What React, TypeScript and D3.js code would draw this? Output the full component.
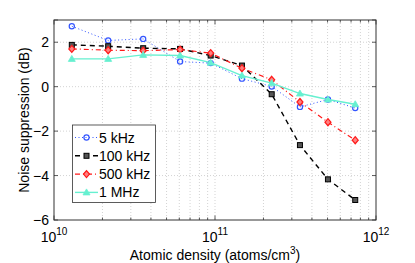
import * as d3 from "d3";
import { useEffect, useRef } from "react";

const density = [1.29e10, 2.17e10, 3.58e10, 6.07e10, 9.4e10, 1.47e11, 2.25e11, 3.37e11, 5.03e11, 7.43e11];
const khz5 = [2.72, 2.08, 2.15, 1.13, 1.06, 0.36, 0.01, -0.91, -0.58, -0.96];
const khz100 = [1.88, 1.82, 1.73, 1.7, 1.4, 0.95, -0.34, -2.63, -4.17, -5.1];
const khz500 = [1.7, 1.64, 1.62, 1.67, 1.51, 0.83, 0.31, -0.69, -1.6, -2.41];
const mhz1 = [1.25, 1.25, 1.43, 1.4, 1.08, 0.5, 0.16, -0.31, -0.58, -0.79];
const seriesNames = ["5 kHz", "100 kHz", "500 kHz", "1 MHz"];
const yTicks = [-6, -4, -2, 0, 2];
const xMajor = [1e10, 1e11, 1e12];

const W = 415;
const H = 263;
const M = { left: 54, right: 39, top: 20, bottom: 43 };
const FONT = "'Liberation Sans', Arial, sans-serif";

type Style = { color: string; dash: string; marker: "circle" | "square" | "diamond" | "triangle"; width: number };
const styles: Style[] = [
  { color: "#3355ff", dash: "1,2.5", marker: "circle", width: 1 },
  { color: "#000000", dash: "5,4", marker: "square", width: 1.4 },
  { color: "#ff1a1a", dash: "5,3,1,3", marker: "diamond", width: 1.2 },
  { color: "#66f0d0", dash: "", marker: "triangle", width: 1.4 },
];

function drawMarker(g: d3.Selection<SVGGElement, unknown, null, undefined>, kind: Style["marker"], x: number, y: number, color: string) {
  if (kind === "circle") {
    g.append("circle").attr("cx", x).attr("cy", y).attr("r", 2.6).attr("fill", "none").attr("stroke", color).attr("stroke-width", 1.2);
  } else if (kind === "square") {
    g.append("rect").attr("x", x - 2.5).attr("y", y - 2.5).attr("width", 5).attr("height", 5)
      .attr("fill", "#555").attr("stroke", "#000").attr("stroke-width", 1);
  } else if (kind === "diamond") {
    g.append("path").attr("d", `M${x},${y - 3.5}L${x + 3},${y}L${x},${y + 3.5}L${x - 3},${y}Z`)
      .attr("fill", "#ff8080").attr("stroke", color).attr("stroke-width", 1.2);
  } else {
    g.append("path").attr("d", `M${x},${y - 3.5}L${x + 3.5},${y + 2.5}L${x - 3.5},${y + 2.5}Z`)
      .attr("fill", color).attr("stroke", color).attr("stroke-width", 0.8);
  }
}

export default function App() {
  const ref = useRef<SVGSVGElement>(null);

  useEffect(() => {
    const svg = d3.select(ref.current!);
    svg.selectAll("*").remove();

    const x = d3.scaleLog().domain([1e10, 1e12]).range([M.left, W - M.right]);
    const y = d3.scaleLinear().domain([-6, 3]).range([H - M.bottom, M.top]);
    const x0 = M.left, x1 = W - M.right, y0 = M.top, y1 = H - M.bottom;

    svg.append("rect").attr("x", x0).attr("y", y0).attr("width", x1 - x0).attr("height", y1 - y0).attr("fill", "#fff");

    // grid
    const minor: number[] = [];
    for (const d of [1e10, 1e11]) for (let k = 2; k <= 9; k++) minor.push(d * k);
    const grid = svg.append("g").attr("stroke", "#c8c8c8").attr("stroke-width", 0.8).attr("stroke-dasharray", "1,2");
    [...minor, 1e11].forEach((v) => grid.append("line").attr("x1", x(v)).attr("x2", x(v)).attr("y1", y0).attr("y2", y1));
    [-4, -2, 0, 2].forEach((v) => grid.append("line").attr("x1", x0).attr("x2", x1).attr("y1", y(v)).attr("y2", y(v)));

    // ticks inside box
    const tk = svg.append("g").attr("stroke", "#333").attr("stroke-width", 0.8);
    yTicks.concat([3]).forEach((v) => {
      tk.append("line").attr("x1", x0).attr("x2", x0 + 4).attr("y1", y(v)).attr("y2", y(v));
      tk.append("line").attr("x1", x1).attr("x2", x1 - 4).attr("y1", y(v)).attr("y2", y(v));
    });
    minor.forEach((v) => {
      tk.append("line").attr("x1", x(v)).attr("x2", x(v)).attr("y1", y1).attr("y2", y1 - 2.5);
      tk.append("line").attr("x1", x(v)).attr("x2", x(v)).attr("y1", y0).attr("y2", y0 + 2.5);
    });
    xMajor.forEach((v) => {
      tk.append("line").attr("x1", x(v)).attr("x2", x(v)).attr("y1", y1).attr("y2", y1 - 4.5);
      tk.append("line").attr("x1", x(v)).attr("x2", x(v)).attr("y1", y0).attr("y2", y0 + 4.5);
    });

    // series
    const all = [khz5, khz100, khz500, mhz1];
    all.forEach((vals, i) => {
      const s = styles[i];
      const line = d3.line<number>().x((_, j) => x(density[j])).y((v) => y(v));
      svg.append("path").attr("d", line(vals)).attr("fill", "none").attr("stroke", s.color)
        .attr("stroke-width", s.width).attr("stroke-dasharray", s.dash || null);
      const mg = svg.append("g");
      vals.forEach((v, j) => drawMarker(mg, s.marker, x(density[j]), y(v), s.color));
    });

    // box
    svg.append("rect").attr("x", x0).attr("y", y0).attr("width", x1 - x0).attr("height", y1 - y0)
      .attr("fill", "none").attr("stroke", "#333").attr("stroke-width", 1);

    // y tick labels
    yTicks.forEach((v) => {
      svg.append("text").attr("x", x0 - 5).attr("y", y(v) + 5).attr("text-anchor", "end")
        .attr("font-family", FONT).attr("font-size", 14).text(v < 0 ? `\u2212${-v}` : `${v}`);
    });
    // x tick labels
    xMajor.forEach((v) => {
      const t = svg.append("text").attr("x", x(v)).attr("y", y1 + 21.5).attr("text-anchor", "middle")
        .attr("font-family", FONT).attr("font-size", 14);
      t.append("tspan").text("10");
      t.append("tspan").attr("dy", -7).attr("font-size", 10).text(`${Math.round(Math.log10(v))}`);
    });

    const xl = svg.append("text").attr("x", (x0 + x1) / 2).attr("y", H - 3).attr("text-anchor", "middle")
      .attr("font-family", FONT).attr("font-size", 14);
    xl.append("tspan").text("Atomic density (atoms/cm");
    xl.append("tspan").attr("dy", -6).attr("font-size", 10).text("3");
    xl.append("tspan").attr("dy", 6).text(")");

    svg.append("text").attr("transform", `translate(29,${(y0 + y1) / 2}) rotate(-90)`).attr("text-anchor", "middle")
      .attr("font-family", FONT).attr("font-size", 14).text("Noise suppression (dB)");

    // legend
    const lg = svg.append("g");
    lg.append("rect").attr("x", 72.5).attr("y", 125).attr("width", 83).attr("height", 77.5)
      .attr("fill", "#fff").attr("stroke", "#333").attr("stroke-width", 0.8);
    seriesNames.forEach((name, i) => {
      const s = styles[i];
      const ly = 137.5 + i * 18.3;
      lg.append("line").attr("x1", 75).attr("x2", 98).attr("y1", ly).attr("y2", ly).attr("stroke", s.color)
        .attr("stroke-width", s.width).attr("stroke-dasharray", s.dash || null);
      drawMarker(lg, s.marker, 86.5, ly, s.color);
      lg.append("text").attr("x", 99).attr("y", ly + 5).attr("font-family", FONT).attr("font-size", 14).text(name);
    });
  }, []);

  return (
    <svg ref={ref} width={W} height={H} style={{ position: "absolute", left: 0, top: 0, background: "#fff" }} />
  );
}
